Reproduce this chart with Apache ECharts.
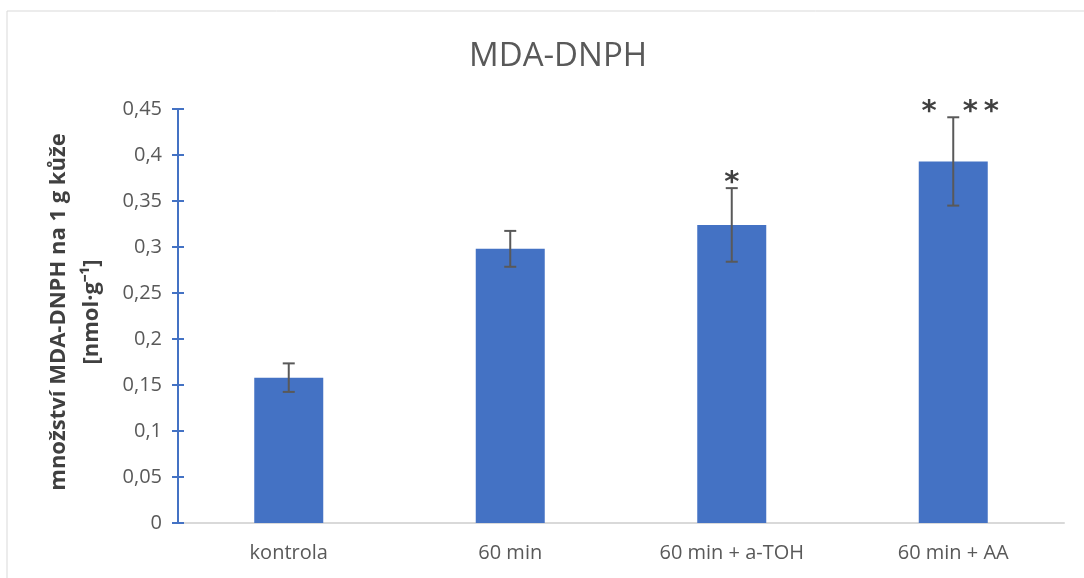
<!DOCTYPE html>
<html>
<head>
<meta charset="utf-8">
<script src="https://cdn.jsdelivr.net/npm/echarts@6/dist/echarts.min.js"></script>
<style>
  html, body { margin: 0; padding: 0; background: #fff; }
  #chart { width: 1084px; height: 578px; }
</style>
</head>
<body>
<div id="chart"></div>
<script>
const categories = ['kontrola', '60 min', '60 min + a-TOH', '60 min + AA'];
const means = [0.158, 0.298, 0.324, 0.393];
const errors = [0.0155, 0.0195, 0.040, 0.048];
const marks = ['', '', '*', '*  \u2009*\u2009*'];

const font = 'Open Sans';
const grey = '#595959';

const chart = echarts.init(document.getElementById('chart'));

function renderErrorBar(params, api) {
  const i = api.value(0);
  const top = api.coord([i, means[i] + errors[i]]);
  const bottom = api.coord([i, means[i] - errors[i]]);
  const cap = 6;
  const style = { stroke: grey, lineWidth: 2 };
  const children = [
    { type: 'line', shape: { x1: top[0], y1: top[1], x2: bottom[0], y2: bottom[1] }, style },
    { type: 'line', shape: { x1: top[0] - cap, y1: top[1], x2: top[0] + cap, y2: top[1] }, style },
    { type: 'line', shape: { x1: bottom[0] - cap, y1: bottom[1], x2: bottom[0] + cap, y2: bottom[1] }, style }
  ];
  if (marks[i]) {
    // multi-star labels sit a bit right of the bar centre, like the original
    const shift = marks[i].length > 1 ? 7 : 0;
    children.push({
      type: 'text',
      style: {
        x: top[0] + shift, y: top[1] + 10,
        text: marks[i],
        fill: '#404040',
        font: 'bold 29px "DejaVu Sans"',
        align: 'center',
        verticalAlign: 'bottom'
      }
    });
  }
  return { type: 'group', children };
}

chart.setOption({
  animation: false,
  title: {
    text: 'MDA-DNPH',
    left: 464,
    top: 35,
    textStyle: { fontFamily: font, fontSize: 33, fontWeight: 'normal', color: grey }
  },
  graphic: [{
    type: 'rect',
    shape: { x: 7, y: 11, width: 1090, height: 600 },
    style: { fill: 'none', stroke: '#d9d9d9', lineWidth: 1 },
    silent: true
  }],
  grid: { left: 178, right: 20, top: 109, bottom: 55 },
  xAxis: {
    type: 'category',
    data: categories,
    axisLine: { lineStyle: { color: '#d9d9d9', width: 2 } },
    axisTick: { show: false },
    axisLabel: { color: grey, fontFamily: font, fontSize: 20, margin: 20 }
  },
  yAxis: [{
    type: 'value',
    min: 0,
    max: 0.45,
    interval: 0.05,
    name: 'množství MDA-DNPH na 1 g kůže\n[nmol·g⁻¹]',
    nameLocation: 'middle',
    nameGap: 70,
    nameRotate: 90,
    nameTextStyle: { color: '#404040', fontFamily: font, fontSize: 22, fontWeight: 'bold', lineHeight: 33, padding: [0, 0, 0, 8] },
    axisLine: { show: true, lineStyle: { color: '#4472C4', width: 2 } },
    axisTick: { show: true, length: 6, lineStyle: { color: '#4472C4', width: 2 } },
    axisLabel: {
      color: grey, fontFamily: font, fontSize: 20, margin: 16,
      formatter: (v) => String(Math.round(v * 100) / 100).replace('.', ',')
    },
    splitLine: { show: false }
  }, {
    type: 'value',
    min: 0,
    max: 0.45,
    interval: 0.05,
    position: 'left',
    axisLine: { show: false },
    axisTick: { show: true, inside: true, length: 6, lineStyle: { color: '#4472C4', width: 2 } },
    axisLabel: { show: false },
    splitLine: { show: false }
  }],
  series: [{
    type: 'bar',
    data: means,
    barWidth: 69,
    itemStyle: { color: '#4472C4' }
  }, {
    type: 'custom',
    data: categories.map((c, i) => [i]),
    renderItem: renderErrorBar,
    z: 10
  }]
});
</script>
</body>
</html>
